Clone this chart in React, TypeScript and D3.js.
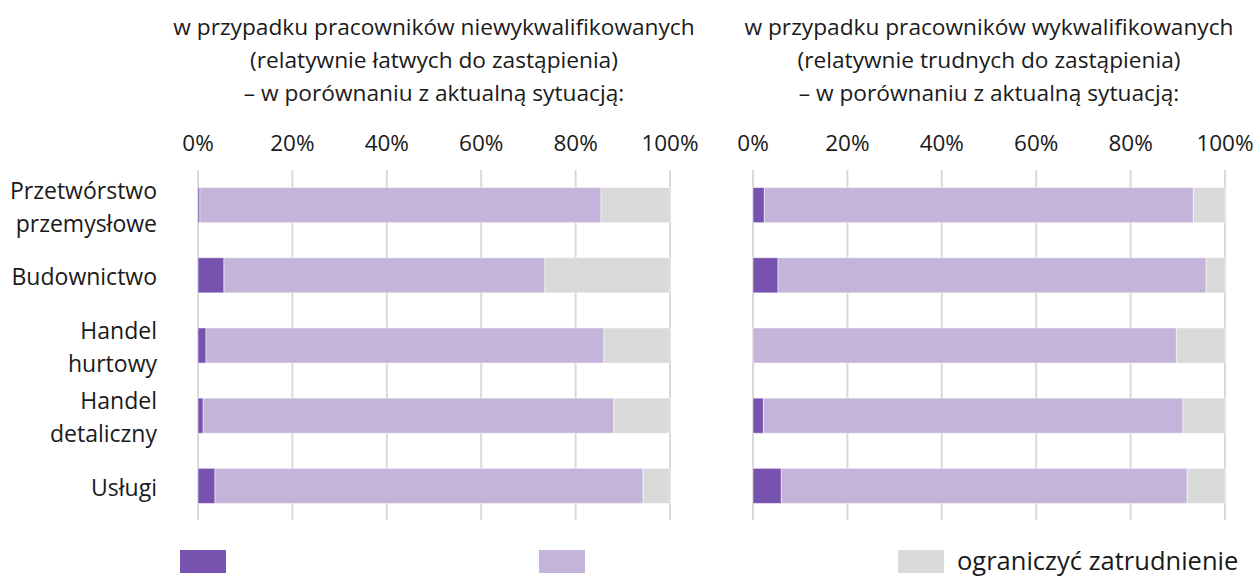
import React from "react";
import * as d3 from "d3";

const categories = [
  ["Przetwórstwo", "przemysłowe"],
  ["Budownictwo"],
  ["Handel", "hurtowy"],
  ["Handel", "detaliczny"],
  ["Usługi"],
];
const categoryKeys = ["Przetwórstwo przemysłowe", "Budownictwo", "Handel hurtowy", "Handel detaliczny", "Usługi"];

// left panel: unskilled workers
const leftIncrease = [0.4, 5.5, 1.7, 1.1, 3.6];
const leftKeep = [85.0, 68.0, 84.3, 87.0, 90.7];
const leftReduce = [14.6, 26.5, 14.0, 11.9, 5.7];

// right panel: skilled workers
const rightIncrease = [2.4, 5.3, 0.0, 2.2, 6.0];
const rightKeep = [90.9, 90.7, 89.7, 88.9, 86.0];
const rightReduce = [6.7, 4.0, 10.3, 8.9, 8.0];

const leftTitle = [
  "w przypadku pracowników niewykwalifikowanych",
  "(relatywnie łatwych do zastąpienia)",
  "– w porównaniu z aktualną sytuacją:",
];
const rightTitle = [
  "w przypadku pracowników wykwalifikowanych",
  "(relatywnie trudnych do zastąpienia)",
  "– w porównaniu z aktualną sytuacją:",
];
const tickValues = [0, 20, 40, 60, 80, 100];
const legendLabels = ["", "", "ograniczyć zatrudnienie"];
const colors = ["#7752af", "#c4b4d9", "#d9d9d9"];

const W = 1256;
const H = 577;
const FONT = "'Open Sans', 'Noto Sans', sans-serif";
const TEXT = "#1a1a1a";

const y = d3
  .scaleBand<string>()
  .domain(categoryKeys)
  .range([170, 521])
  .paddingInner(0.5)
  .paddingOuter(0.25);

function Panel({ x0, x1, series, title }: { x0: number; x1: number; series: number[][]; title: string[] }) {
  const x = d3.scaleLinear().domain([0, 100]).range([x0, x1]);
  const stack = d3.stack<number>().keys(["0", "1", "2"]).value((i, k) => series[+k][i]);
  const stacked = stack(d3.range(categoryKeys.length));
  const cx = (x0 + x1) / 2;
  return (
    <g>
      {title.map((t, i) => (
        <text key={i} x={cx} y={35 + i * 33} textAnchor="middle" fontSize={22.7} fill={TEXT} fontFamily={FONT}>
          {t}
        </text>
      ))}
      {tickValues.map((v) => (
        <text key={"t" + v} x={x(v)} y={151} textAnchor="middle" fontSize={22.5} fill={TEXT} fontFamily={FONT}>
          {v + "%"}
        </text>
      ))}
      {tickValues.map((v) => (
        <line key={"g" + v} x1={x(v)} x2={x(v)} y1={170} y2={520} stroke="#d9d9d9" strokeWidth={2} />
      ))}
      {stacked.map((layer, si) => (
        <g key={si}>
          {layer.map((d, i) => {
            const w = x(d[1]) - x(d[0]);
            if (w <= 0) return null;
            return (
              <rect
                key={i}
                x={x(d[0])}
                y={y(categoryKeys[i])!}
                width={w}
                height={y.bandwidth()}
                fill={colors[si]}
                stroke="#ffffff"
                strokeOpacity={0.5}
                strokeWidth={1}
              />
            );
          })}
        </g>
      ))}
    </g>
  );
}

export default function App() {
  const leftX = [198, 670];
  const rightX = [753, 1225];
  const legendX = d3.scalePoint<number>().domain([0, 1, 2]).range([180, 898]);
  return (
    <svg width={W} height={H} style={{ position: "absolute", left: 0, top: 0, background: "#fff" }}>
      <rect width={W} height={H} fill="#fff" />
      <Panel x0={leftX[0]} x1={leftX[1]} series={[leftIncrease, leftKeep, leftReduce]} title={leftTitle} />
      <Panel x0={rightX[0]} x1={rightX[1]} series={[rightIncrease, rightKeep, rightReduce]} title={rightTitle} />
      {categories.map((lines, i) => {
        const c = y(categoryKeys[i])! + y.bandwidth() / 2;
        return (
          <text key={i} textAnchor="end" fontSize={23} fill={TEXT} fontFamily={FONT}>
            {lines.map((l, j) => (
              <tspan key={j} x={157} y={c + (j - (lines.length - 1) / 2) * 33 + 10}>
                {l}
              </tspan>
            ))}
          </text>
        );
      })}
      {legendLabels.map((l, i) => (
        <g key={"l" + i} transform={`translate(${legendX(i)},550)`}>
          <rect width={46} height={23} fill={colors[i]} />
          {l && (
            <text x={59} y={20} fontSize={25.5} fill={TEXT} fontFamily={FONT}>
              {l}
            </text>
          )}
        </g>
      ))}
    </svg>
  );
}
